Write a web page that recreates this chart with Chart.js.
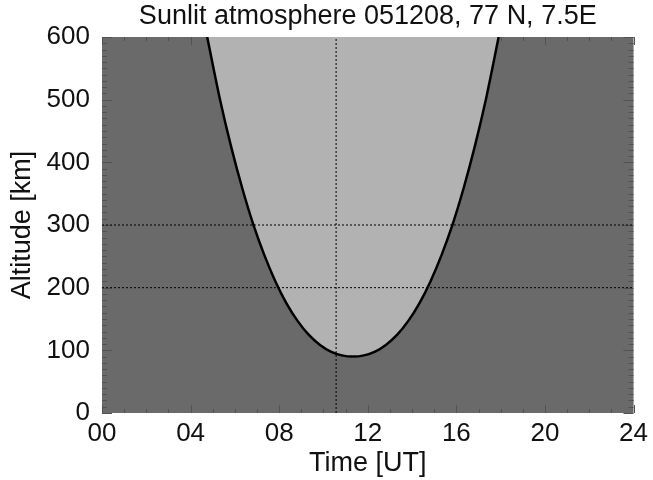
<!DOCTYPE html>
<html>
<head>
<meta charset="utf-8">
<script src="https://cdn.jsdelivr.net/npm/chart.js@4"></script>
<style>
  html, body { margin: 0; padding: 0; background: #fff; }
  #wrap { width: 653px; height: 480px; }
</style>
</head>
<body>
<div id="wrap"><canvas id="sunChart" width="653" height="480"></canvas></div>
<script>
// terminator curve: time [UT hours] vs altitude [km]
const curveTime = [4.75, 5.33, 5.83, 6.33, 6.83, 7.33, 7.83, 8.33, 8.83, 9.33, 9.83, 10.33, 10.83, 11.33,
                   11.83, 12.33, 12.83, 13.33, 13.83, 14.33, 14.83, 15.33, 15.83, 16.33, 16.83, 17.33, 17.91];
const curveAlt  = [600, 500, 425, 359, 301, 252, 210, 175, 147, 125, 109, 98, 92, 90,
                   92, 98, 109, 125, 147, 175, 210, 252, 301, 359, 425, 500, 600];

// dotted reference lines
const refLevels = [200, 300];
const refTime = 10.57;

const xTicks = [0, 4, 8, 12, 16, 20, 24];
const yTicks = [0, 100, 200, 300, 400, 500, 600];

const titleText = 'Sunlit atmosphere 051208, 77 N, 7.5E';
const darkGray = '#6a6a6a';
const lightGray = '#b2b2b2';
const font = 'Liberation Sans, Arial, sans-serif';

const bgPlugin = {
    id: 'plotBg',
    // plot background + title centred over the plot area
    beforeDraw(chart) {
        const a = chart.chartArea;
        const ctx = chart.ctx;
        ctx.save();
        ctx.fillStyle = darkGray;
        ctx.fillRect(a.left, a.top, a.right - a.left, a.bottom - a.top);
        ctx.fillStyle = '#111';
        ctx.font = '27px ' + font;
        ctx.textAlign = 'center';
        ctx.textBaseline = 'middle';
        ctx.fillText(titleText, (a.left + a.right) / 2, 17);
        ctx.restore();
    },
    // inward tick marks on all four sides, minor and major
    beforeDatasetsDraw(chart) {
        const a = chart.chartArea;
        const ctx = chart.ctx;
        const xs = chart.scales.x, ys = chart.scales.y;
        ctx.save();
        ctx.strokeStyle = '#525252';
        ctx.lineWidth = 1;
        ctx.beginPath();
        for (let h = 0; h <= 24; h++) {
            const px = Math.round(xs.getPixelForValue(h)) + 0.5;
            const len = h % 4 === 0 ? 8 : 4;
            ctx.moveTo(px, a.bottom); ctx.lineTo(px, a.bottom - len);
            ctx.moveTo(px, a.top); ctx.lineTo(px, a.top + len);
        }
        for (let k = 0; k <= 600; k += 10) {
            const py = Math.round(ys.getPixelForValue(k)) + 0.5;
            const len = k % 100 === 0 ? 10 : 5;
            ctx.moveTo(a.left, py); ctx.lineTo(a.left + len, py);
            ctx.moveTo(a.right, py); ctx.lineTo(a.right - len, py);
        }
        ctx.stroke();
        ctx.restore();
    }
};

const refSets = refLevels.map(lv => ({
    data: [{x: 0, y: lv}, {x: 24, y: lv}],
    borderColor: '#000',
    borderWidth: 1,
    borderDash: [2, 2],
    pointRadius: 0,
    fill: false
}));
refSets.push({
    data: [{x: refTime, y: 0}, {x: refTime, y: 600}],
    borderColor: '#000',
    borderWidth: 1,
    borderDash: [2, 2],
    pointRadius: 0,
    fill: false
});

const ctx = document.getElementById('sunChart').getContext('2d');
new Chart(ctx, {
    type: 'line',
    data: {
        datasets: [
            ...refSets,
            {
                data: curveTime.map((t, i) => ({x: t, y: curveAlt[i]})),
                borderColor: '#000',
                borderWidth: 2.5,
                backgroundColor: lightGray,
                pointRadius: 0,
                cubicInterpolationMode: 'monotone',
                fill: 'end'
            }
        ]
    },
    options: {
        responsive: false,
        animation: false,
        layout: { padding: { top: 37, right: 17 } },
        plugins: {
            legend: { display: false },
            tooltip: { enabled: false },
            title: { display: false }
        },
        scales: {
            x: {
                type: 'linear',
                min: 0,
                max: 24,
                afterBuildTicks: s => { s.ticks = xTicks.map(v => ({value: v})); },
                afterFit: s => { s.height = 67; },
                grid: { display: false, drawTicks: false },
                border: { display: false },
                ticks: {
                    color: '#111',
                    padding: 5,
                    maxRotation: 0,
                    font: { family: font, size: 26 },
                    callback: v => String(v).padStart(2, '0')
                },
                title: {
                    display: true,
                    text: 'Time [UT]',
                    color: '#111',
                    font: { family: font, size: 27 },
                    padding: { top: 0, bottom: 0 }
                }
            },
            y: {
                type: 'linear',
                min: 0,
                max: 600,
                afterBuildTicks: s => { s.ticks = yTicks.map(v => ({value: v})); },
                afterFit: s => { s.width = 102; },
                grid: { display: false, drawTicks: false },
                border: { display: false },
                ticks: {
                    color: '#111',
                    padding: 12,
                    font: { family: font, size: 26 }
                },
                title: {
                    display: true,
                    text: 'Altitude [km]',
                    color: '#111',
                    font: { family: font, size: 27 },
                    padding: { top: 6, bottom: 0 }
                }
            }
        }
    },
    plugins: [bgPlugin]
});
</script>
</body>
</html>
